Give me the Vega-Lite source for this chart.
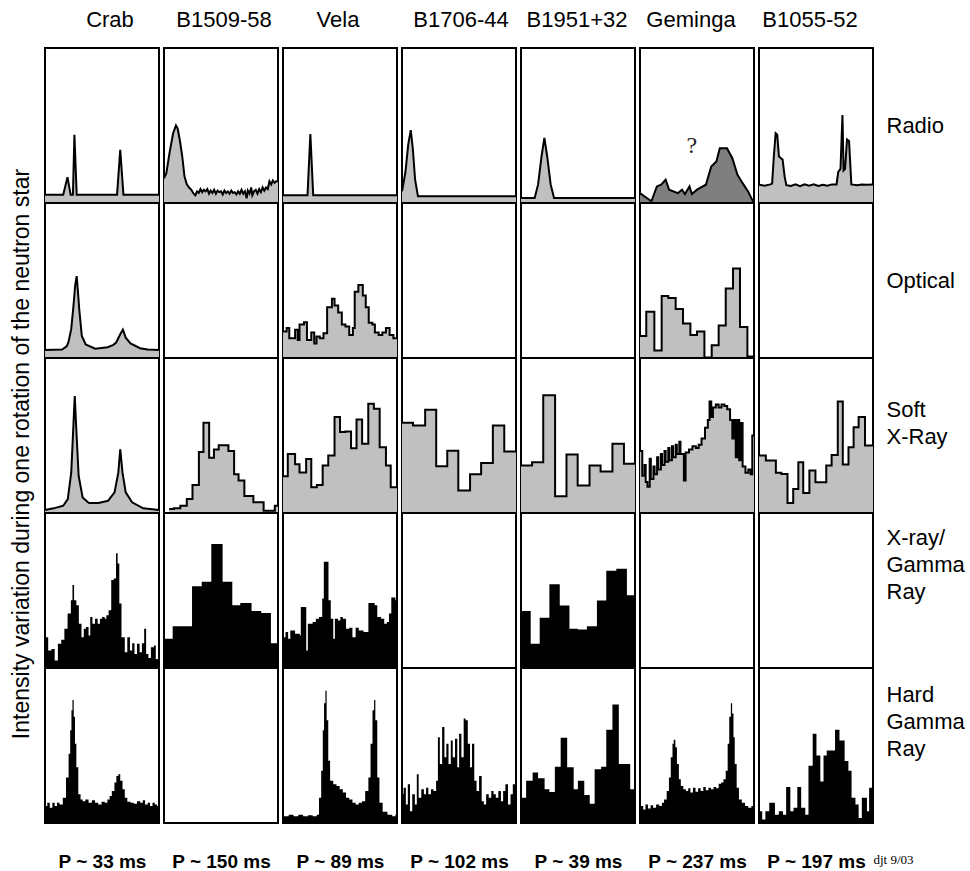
{
"$schema": "https://vega.github.io/schema/vega-lite/v6.json",
"background": "white",
"padding": {"left": 10, "top": 8, "right": 0, "bottom": 0},
"title": {"text": "Intensity variation during one rotation of the neutron star", "orient": "left", "anchor": "middle", "fontSize": 23, "fontWeight": "normal", "font": "Liberation Sans", "color": "black", "offset": 6, "dx": -14},
"datasets": {"profiles": [
{"p":"Crab","b":"Radio","x":0,"y":0.054},{"p":"Crab","b":"Radio","x":0.16,"y":0.054},{"p":"Crab","b":"Radio","x":0.197,"y":0.167},{"p":"Crab","b":"Radio","x":0.225,"y":0.054},{"p":"Crab","b":"Radio","x":0.245,"y":0.054},{"p":"Crab","b":"Radio","x":0.258,"y":0.44},{"p":"Crab","b":"Radio","x":0.278,"y":0.054},{"p":"Crab","b":"Radio","x":0.632,"y":0.054},{"p":"Crab","b":"Radio","x":0.66,"y":0.343},{"p":"Crab","b":"Radio","x":0.688,"y":0.054},{"p":"Crab","b":"Radio","x":1,"y":0.054},
{"p":"Crab","b":"Optical","x":0,"y":0.052},{"p":"Crab","b":"Optical","x":0.15,"y":0.055},{"p":"Crab","b":"Optical","x":0.19,"y":0.075},{"p":"Crab","b":"Optical","x":0.205,"y":0.1},{"p":"Crab","b":"Optical","x":0.23,"y":0.186},{"p":"Crab","b":"Optical","x":0.25,"y":0.338},{"p":"Crab","b":"Optical","x":0.265,"y":0.47},{"p":"Crab","b":"Optical","x":0.278,"y":0.528},{"p":"Crab","b":"Optical","x":0.29,"y":0.42},{"p":"Crab","b":"Optical","x":0.3,"y":0.317},{"p":"Crab","b":"Optical","x":0.323,"y":0.142},{"p":"Crab","b":"Optical","x":0.357,"y":0.087},{"p":"Crab","b":"Optical","x":0.44,"y":0.06},{"p":"Crab","b":"Optical","x":0.55,"y":0.07},{"p":"Crab","b":"Optical","x":0.6,"y":0.085},{"p":"Crab","b":"Optical","x":0.624,"y":0.1},{"p":"Crab","b":"Optical","x":0.66,"y":0.153},{"p":"Crab","b":"Optical","x":0.683,"y":0.183},{"p":"Crab","b":"Optical","x":0.708,"y":0.131},{"p":"Crab","b":"Optical","x":0.75,"y":0.094},{"p":"Crab","b":"Optical","x":0.834,"y":0.063},{"p":"Crab","b":"Optical","x":0.9,"y":0.055},{"p":"Crab","b":"Optical","x":1,"y":0.052},
{"p":"Crab","b":"Soft X-Ray","x":0,"y":0.02},{"p":"Crab","b":"Soft X-Ray","x":0.076,"y":0.03},{"p":"Crab","b":"Soft X-Ray","x":0.16,"y":0.047},{"p":"Crab","b":"Soft X-Ray","x":0.2,"y":0.09},{"p":"Crab","b":"Soft X-Ray","x":0.23,"y":0.26},{"p":"Crab","b":"Soft X-Ray","x":0.25,"y":0.58},{"p":"Crab","b":"Soft X-Ray","x":0.261,"y":0.754},{"p":"Crab","b":"Soft X-Ray","x":0.272,"y":0.58},{"p":"Crab","b":"Soft X-Ray","x":0.295,"y":0.24},{"p":"Crab","b":"Soft X-Ray","x":0.33,"y":0.1},{"p":"Crab","b":"Soft X-Ray","x":0.385,"y":0.064},{"p":"Crab","b":"Soft X-Ray","x":0.47,"y":0.064},{"p":"Crab","b":"Soft X-Ray","x":0.553,"y":0.079},{"p":"Crab","b":"Soft X-Ray","x":0.61,"y":0.133},{"p":"Crab","b":"Soft X-Ray","x":0.643,"y":0.26},{"p":"Crab","b":"Soft X-Ray","x":0.66,"y":0.411},{"p":"Crab","b":"Soft X-Ray","x":0.68,"y":0.26},{"p":"Crab","b":"Soft X-Ray","x":0.708,"y":0.133},{"p":"Crab","b":"Soft X-Ray","x":0.764,"y":0.069},{"p":"Crab","b":"Soft X-Ray","x":0.862,"y":0.03},{"p":"Crab","b":"Soft X-Ray","x":1,"y":0.02},
{"p":"Crab","b":"X-ray/Gamma Ray","x":0,"y":0.199},{"p":"Crab","b":"X-ray/Gamma Ray","x":0.028,"y":0.113},{"p":"Crab","b":"X-ray/Gamma Ray","x":0.057,"y":0.123},{"p":"Crab","b":"X-ray/Gamma Ray","x":0.085,"y":0.048},{"p":"Crab","b":"X-ray/Gamma Ray","x":0.113,"y":0.156},{"p":"Crab","b":"X-ray/Gamma Ray","x":0.142,"y":0.182},{"p":"Crab","b":"X-ray/Gamma Ray","x":0.17,"y":0.253},{"p":"Crab","b":"X-ray/Gamma Ray","x":0.198,"y":0.351},{"p":"Crab","b":"X-ray/Gamma Ray","x":0.227,"y":0.437},{"p":"Crab","b":"X-ray/Gamma Ray","x":0.241,"y":0.535},{"p":"Crab","b":"X-ray/Gamma Ray","x":0.255,"y":0.437},{"p":"Crab","b":"X-ray/Gamma Ray","x":0.275,"y":0.405},{"p":"Crab","b":"X-ray/Gamma Ray","x":0.297,"y":0.286},{"p":"Crab","b":"X-ray/Gamma Ray","x":0.32,"y":0.199},{"p":"Crab","b":"X-ray/Gamma Ray","x":0.34,"y":0.253},{"p":"Crab","b":"X-ray/Gamma Ray","x":0.36,"y":0.264},{"p":"Crab","b":"X-ray/Gamma Ray","x":0.382,"y":0.21},{"p":"Crab","b":"X-ray/Gamma Ray","x":0.397,"y":0.329},{"p":"Crab","b":"X-ray/Gamma Ray","x":0.416,"y":0.286},{"p":"Crab","b":"X-ray/Gamma Ray","x":0.439,"y":0.318},{"p":"Crab","b":"X-ray/Gamma Ray","x":0.462,"y":0.286},{"p":"Crab","b":"X-ray/Gamma Ray","x":0.482,"y":0.318},{"p":"Crab","b":"X-ray/Gamma Ray","x":0.501,"y":0.329},{"p":"Crab","b":"X-ray/Gamma Ray","x":0.524,"y":0.318},{"p":"Crab","b":"X-ray/Gamma Ray","x":0.538,"y":0.34},{"p":"Crab","b":"X-ray/Gamma Ray","x":0.558,"y":0.372},{"p":"Crab","b":"X-ray/Gamma Ray","x":0.581,"y":0.567},{"p":"Crab","b":"X-ray/Gamma Ray","x":0.603,"y":0.578},{"p":"Crab","b":"X-ray/Gamma Ray","x":0.623,"y":0.74},{"p":"Crab","b":"X-ray/Gamma Ray","x":0.637,"y":0.675},{"p":"Crab","b":"X-ray/Gamma Ray","x":0.652,"y":0.416},{"p":"Crab","b":"X-ray/Gamma Ray","x":0.671,"y":0.199},{"p":"Crab","b":"X-ray/Gamma Ray","x":0.7,"y":0.102},{"p":"Crab","b":"X-ray/Gamma Ray","x":0.722,"y":0.199},{"p":"Crab","b":"X-ray/Gamma Ray","x":0.745,"y":0.113},{"p":"Crab","b":"X-ray/Gamma Ray","x":0.765,"y":0.16},{"p":"Crab","b":"X-ray/Gamma Ray","x":0.785,"y":0.091},{"p":"Crab","b":"X-ray/Gamma Ray","x":0.807,"y":0.156},{"p":"Crab","b":"X-ray/Gamma Ray","x":0.83,"y":0.102},{"p":"Crab","b":"X-ray/Gamma Ray","x":0.85,"y":0.16},{"p":"Crab","b":"X-ray/Gamma Ray","x":0.87,"y":0.253},{"p":"Crab","b":"X-ray/Gamma Ray","x":0.887,"y":0.091},{"p":"Crab","b":"X-ray/Gamma Ray","x":0.907,"y":0.065},{"p":"Crab","b":"X-ray/Gamma Ray","x":0.929,"y":0.134},{"p":"Crab","b":"X-ray/Gamma Ray","x":0.955,"y":0.145},{"p":"Crab","b":"X-ray/Gamma Ray","x":0.972,"y":0.058},{"p":"Crab","b":"X-ray/Gamma Ray","x":0.99,"y":0.048},{"p":"Crab","b":"X-ray/Gamma Ray","x":1,"y":0.048},
{"p":"Crab","b":"Hard Gamma Ray","x":0,"y":0.109},{"p":"Crab","b":"Hard Gamma Ray","x":0.02,"y":0.13},{"p":"Crab","b":"Hard Gamma Ray","x":0.042,"y":0.098},{"p":"Crab","b":"Hard Gamma Ray","x":0.065,"y":0.13},{"p":"Crab","b":"Hard Gamma Ray","x":0.085,"y":0.109},{"p":"Crab","b":"Hard Gamma Ray","x":0.105,"y":0.13},{"p":"Crab","b":"Hard Gamma Ray","x":0.127,"y":0.12},{"p":"Crab","b":"Hard Gamma Ray","x":0.156,"y":0.163},{"p":"Crab","b":"Hard Gamma Ray","x":0.184,"y":0.293},{"p":"Crab","b":"Hard Gamma Ray","x":0.207,"y":0.446},{"p":"Crab","b":"Hard Gamma Ray","x":0.221,"y":0.598},{"p":"Crab","b":"Hard Gamma Ray","x":0.232,"y":0.728},{"p":"Crab","b":"Hard Gamma Ray","x":0.241,"y":0.793},{"p":"Crab","b":"Hard Gamma Ray","x":0.252,"y":0.685},{"p":"Crab","b":"Hard Gamma Ray","x":0.263,"y":0.511},{"p":"Crab","b":"Hard Gamma Ray","x":0.275,"y":0.359},{"p":"Crab","b":"Hard Gamma Ray","x":0.292,"y":0.185},{"p":"Crab","b":"Hard Gamma Ray","x":0.312,"y":0.152},{"p":"Crab","b":"Hard Gamma Ray","x":0.331,"y":0.141},{"p":"Crab","b":"Hard Gamma Ray","x":0.354,"y":0.152},{"p":"Crab","b":"Hard Gamma Ray","x":0.382,"y":0.13},{"p":"Crab","b":"Hard Gamma Ray","x":0.411,"y":0.146},{"p":"Crab","b":"Hard Gamma Ray","x":0.439,"y":0.13},{"p":"Crab","b":"Hard Gamma Ray","x":0.467,"y":0.12},{"p":"Crab","b":"Hard Gamma Ray","x":0.496,"y":0.137},{"p":"Crab","b":"Hard Gamma Ray","x":0.524,"y":0.13},{"p":"Crab","b":"Hard Gamma Ray","x":0.547,"y":0.152},{"p":"Crab","b":"Hard Gamma Ray","x":0.567,"y":0.174},{"p":"Crab","b":"Hard Gamma Ray","x":0.586,"y":0.207},{"p":"Crab","b":"Hard Gamma Ray","x":0.609,"y":0.261},{"p":"Crab","b":"Hard Gamma Ray","x":0.626,"y":0.304},{"p":"Crab","b":"Hard Gamma Ray","x":0.643,"y":0.315},{"p":"Crab","b":"Hard Gamma Ray","x":0.66,"y":0.272},{"p":"Crab","b":"Hard Gamma Ray","x":0.68,"y":0.217},{"p":"Crab","b":"Hard Gamma Ray","x":0.7,"y":0.163},{"p":"Crab","b":"Hard Gamma Ray","x":0.722,"y":0.137},{"p":"Crab","b":"Hard Gamma Ray","x":0.751,"y":0.13},{"p":"Crab","b":"Hard Gamma Ray","x":0.779,"y":0.124},{"p":"Crab","b":"Hard Gamma Ray","x":0.807,"y":0.141},{"p":"Crab","b":"Hard Gamma Ray","x":0.836,"y":0.13},{"p":"Crab","b":"Hard Gamma Ray","x":0.858,"y":0.146},{"p":"Crab","b":"Hard Gamma Ray","x":0.878,"y":0.12},{"p":"Crab","b":"Hard Gamma Ray","x":0.901,"y":0.13},{"p":"Crab","b":"Hard Gamma Ray","x":0.921,"y":0.109},{"p":"Crab","b":"Hard Gamma Ray","x":0.943,"y":0.13},{"p":"Crab","b":"Hard Gamma Ray","x":0.963,"y":0.12},{"p":"Crab","b":"Hard Gamma Ray","x":0.983,"y":0.109},{"p":"Crab","b":"Hard Gamma Ray","x":1,"y":0.109},
{"p":"B1509-58","b":"Radio","x":0,"y":0.16},{"p":"B1509-58","b":"Radio","x":0.02,"y":0.19},{"p":"B1509-58","b":"Radio","x":0.05,"y":0.33},{"p":"B1509-58","b":"Radio","x":0.08,"y":0.45},{"p":"B1509-58","b":"Radio","x":0.105,"y":0.5},{"p":"B1509-58","b":"Radio","x":0.12,"y":0.48},{"p":"B1509-58","b":"Radio","x":0.14,"y":0.4},{"p":"B1509-58","b":"Radio","x":0.16,"y":0.3},{"p":"B1509-58","b":"Radio","x":0.18,"y":0.17},{"p":"B1509-58","b":"Radio","x":0.2,"y":0.12},{"p":"B1509-58","b":"Radio","x":0.22,"y":0.1},{"p":"B1509-58","b":"Radio","x":0.24,"y":0.085},{"p":"B1509-58","b":"Radio","x":0.26,"y":0.06},{"p":"B1509-58","b":"Radio","x":0.275,"y":0.05},{"p":"B1509-58","b":"Radio","x":0.29,"y":0.075},{"p":"B1509-58","b":"Radio","x":0.305,"y":0.065},{"p":"B1509-58","b":"Radio","x":0.32,"y":0.09},{"p":"B1509-58","b":"Radio","x":0.335,"y":0.07},{"p":"B1509-58","b":"Radio","x":0.35,"y":0.085},{"p":"B1509-58","b":"Radio","x":0.365,"y":0.075},{"p":"B1509-58","b":"Radio","x":0.38,"y":0.09},{"p":"B1509-58","b":"Radio","x":0.395,"y":0.06},{"p":"B1509-58","b":"Radio","x":0.41,"y":0.08},{"p":"B1509-58","b":"Radio","x":0.425,"y":0.065},{"p":"B1509-58","b":"Radio","x":0.44,"y":0.085},{"p":"B1509-58","b":"Radio","x":0.455,"y":0.06},{"p":"B1509-58","b":"Radio","x":0.47,"y":0.08},{"p":"B1509-58","b":"Radio","x":0.485,"y":0.07},{"p":"B1509-58","b":"Radio","x":0.5,"y":0.075},{"p":"B1509-58","b":"Radio","x":0.515,"y":0.055},{"p":"B1509-58","b":"Radio","x":0.53,"y":0.08},{"p":"B1509-58","b":"Radio","x":0.545,"y":0.065},{"p":"B1509-58","b":"Radio","x":0.56,"y":0.075},{"p":"B1509-58","b":"Radio","x":0.575,"y":0.06},{"p":"B1509-58","b":"Radio","x":0.59,"y":0.08},{"p":"B1509-58","b":"Radio","x":0.605,"y":0.065},{"p":"B1509-58","b":"Radio","x":0.62,"y":0.07},{"p":"B1509-58","b":"Radio","x":0.635,"y":0.055},{"p":"B1509-58","b":"Radio","x":0.65,"y":0.075},{"p":"B1509-58","b":"Radio","x":0.665,"y":0.06},{"p":"B1509-58","b":"Radio","x":0.68,"y":0.085},{"p":"B1509-58","b":"Radio","x":0.695,"y":0.06},{"p":"B1509-58","b":"Radio","x":0.71,"y":0.075},{"p":"B1509-58","b":"Radio","x":0.725,"y":0.03},{"p":"B1509-58","b":"Radio","x":0.735,"y":0.08},{"p":"B1509-58","b":"Radio","x":0.75,"y":0.06},{"p":"B1509-58","b":"Radio","x":0.765,"y":0.1},{"p":"B1509-58","b":"Radio","x":0.775,"y":0.05},{"p":"B1509-58","b":"Radio","x":0.79,"y":0.075},{"p":"B1509-58","b":"Radio","x":0.805,"y":0.085},{"p":"B1509-58","b":"Radio","x":0.82,"y":0.06},{"p":"B1509-58","b":"Radio","x":0.835,"y":0.09},{"p":"B1509-58","b":"Radio","x":0.85,"y":0.07},{"p":"B1509-58","b":"Radio","x":0.865,"y":0.1},{"p":"B1509-58","b":"Radio","x":0.88,"y":0.08},{"p":"B1509-58","b":"Radio","x":0.895,"y":0.1},{"p":"B1509-58","b":"Radio","x":0.91,"y":0.09},{"p":"B1509-58","b":"Radio","x":0.925,"y":0.14},{"p":"B1509-58","b":"Radio","x":0.94,"y":0.12},{"p":"B1509-58","b":"Radio","x":0.955,"y":0.145},{"p":"B1509-58","b":"Radio","x":0.97,"y":0.13},{"p":"B1509-58","b":"Radio","x":0.985,"y":0.14},{"p":"B1509-58","b":"Radio","x":1,"y":0.14},
{"p":"B1509-58","b":"Soft X-Ray","x":0.045,"y":0.026},{"p":"B1509-58","b":"Soft X-Ray","x":0.087,"y":0.03},{"p":"B1509-58","b":"Soft X-Ray","x":0.143,"y":0.047},{"p":"B1509-58","b":"Soft X-Ray","x":0.2,"y":0.09},{"p":"B1509-58","b":"Soft X-Ray","x":0.25,"y":0.18},{"p":"B1509-58","b":"Soft X-Ray","x":0.306,"y":0.394},{"p":"B1509-58","b":"Soft X-Ray","x":0.346,"y":0.582},{"p":"B1509-58","b":"Soft X-Ray","x":0.396,"y":0.357},{"p":"B1509-58","b":"Soft X-Ray","x":0.438,"y":0.41},{"p":"B1509-58","b":"Soft X-Ray","x":0.48,"y":0.437},{"p":"B1509-58","b":"Soft X-Ray","x":0.565,"y":0.4},{"p":"B1509-58","b":"Soft X-Ray","x":0.615,"y":0.25},{"p":"B1509-58","b":"Soft X-Ray","x":0.654,"y":0.21},{"p":"B1509-58","b":"Soft X-Ray","x":0.705,"y":0.11},{"p":"B1509-58","b":"Soft X-Ray","x":0.784,"y":0.07},{"p":"B1509-58","b":"Soft X-Ray","x":0.874,"y":0.015},{"p":"B1509-58","b":"Soft X-Ray","x":0.972,"y":0.047},{"p":"B1509-58","b":"Soft X-Ray","x":1,"y":0.047},
{"p":"B1509-58","b":"X-ray/Gamma Ray","x":0,"y":0.188},{"p":"B1509-58","b":"X-ray/Gamma Ray","x":0.076,"y":0.27},{"p":"B1509-58","b":"X-ray/Gamma Ray","x":0.246,"y":0.528},{"p":"B1509-58","b":"X-ray/Gamma Ray","x":0.331,"y":0.556},{"p":"B1509-58","b":"X-ray/Gamma Ray","x":0.415,"y":0.8},{"p":"B1509-58","b":"X-ray/Gamma Ray","x":0.514,"y":0.556},{"p":"B1509-58","b":"X-ray/Gamma Ray","x":0.599,"y":0.405},{"p":"B1509-58","b":"X-ray/Gamma Ray","x":0.669,"y":0.42},{"p":"B1509-58","b":"X-ray/Gamma Ray","x":0.768,"y":0.368},{"p":"B1509-58","b":"X-ray/Gamma Ray","x":0.853,"y":0.355},{"p":"B1509-58","b":"X-ray/Gamma Ray","x":0.938,"y":0.16},{"p":"B1509-58","b":"X-ray/Gamma Ray","x":1,"y":0.16},
{"p":"Vela","b":"Radio","x":0,"y":0.05},{"p":"Vela","b":"Radio","x":0.215,"y":0.05},{"p":"Vela","b":"Radio","x":0.24,"y":0.445},{"p":"Vela","b":"Radio","x":0.265,"y":0.05},{"p":"Vela","b":"Radio","x":1,"y":0.05},
{"p":"Vela","b":"Optical","x":0,"y":0.171},{"p":"Vela","b":"Optical","x":0.032,"y":0.193},{"p":"Vela","b":"Optical","x":0.055,"y":0.127},{"p":"Vela","b":"Optical","x":0.106,"y":0.182},{"p":"Vela","b":"Optical","x":0.129,"y":0.116},{"p":"Vela","b":"Optical","x":0.145,"y":0.216},{"p":"Vela","b":"Optical","x":0.184,"y":0.231},{"p":"Vela","b":"Optical","x":0.21,"y":0.116},{"p":"Vela","b":"Optical","x":0.248,"y":0.164},{"p":"Vela","b":"Optical","x":0.274,"y":0.093},{"p":"Vela","b":"Optical","x":0.294,"y":0.138},{"p":"Vela","b":"Optical","x":0.323,"y":0.127},{"p":"Vela","b":"Optical","x":0.355,"y":0.16},{"p":"Vela","b":"Optical","x":0.387,"y":0.327},{"p":"Vela","b":"Optical","x":0.429,"y":0.382},{"p":"Vela","b":"Optical","x":0.452,"y":0.338},{"p":"Vela","b":"Optical","x":0.484,"y":0.293},{"p":"Vela","b":"Optical","x":0.516,"y":0.216},{"p":"Vela","b":"Optical","x":0.548,"y":0.204},{"p":"Vela","b":"Optical","x":0.581,"y":0.149},{"p":"Vela","b":"Optical","x":0.613,"y":0.193},{"p":"Vela","b":"Optical","x":0.629,"y":0.427},{"p":"Vela","b":"Optical","x":0.661,"y":0.471},{"p":"Vela","b":"Optical","x":0.7,"y":0.404},{"p":"Vela","b":"Optical","x":0.726,"y":0.327},{"p":"Vela","b":"Optical","x":0.752,"y":0.227},{"p":"Vela","b":"Optical","x":0.784,"y":0.216},{"p":"Vela","b":"Optical","x":0.806,"y":0.164},{"p":"Vela","b":"Optical","x":0.839,"y":0.149},{"p":"Vela","b":"Optical","x":0.871,"y":0.164},{"p":"Vela","b":"Optical","x":0.903,"y":0.193},{"p":"Vela","b":"Optical","x":0.935,"y":0.149},{"p":"Vela","b":"Optical","x":0.968,"y":0.127},{"p":"Vela","b":"Optical","x":1,"y":0.127},
{"p":"Vela","b":"Soft X-Ray","x":0,"y":0.237},{"p":"Vela","b":"Soft X-Ray","x":0.042,"y":0.381},{"p":"Vela","b":"Soft X-Ray","x":0.106,"y":0.315},{"p":"Vela","b":"Soft X-Ray","x":0.145,"y":0.261},{"p":"Vela","b":"Soft X-Ray","x":0.203,"y":0.349},{"p":"Vela","b":"Soft X-Ray","x":0.248,"y":0.166},{"p":"Vela","b":"Soft X-Ray","x":0.297,"y":0.181},{"p":"Vela","b":"Soft X-Ray","x":0.348,"y":0.306},{"p":"Vela","b":"Soft X-Ray","x":0.397,"y":0.371},{"p":"Vela","b":"Soft X-Ray","x":0.452,"y":0.619},{"p":"Vela","b":"Soft X-Ray","x":0.5,"y":0.522},{"p":"Vela","b":"Soft X-Ray","x":0.548,"y":0.526},{"p":"Vela","b":"Soft X-Ray","x":0.597,"y":0.418},{"p":"Vela","b":"Soft X-Ray","x":0.645,"y":0.603},{"p":"Vela","b":"Soft X-Ray","x":0.694,"y":0.446},{"p":"Vela","b":"Soft X-Ray","x":0.748,"y":0.705},{"p":"Vela","b":"Soft X-Ray","x":0.797,"y":0.672},{"p":"Vela","b":"Soft X-Ray","x":0.848,"y":0.425},{"p":"Vela","b":"Soft X-Ray","x":0.903,"y":0.306},{"p":"Vela","b":"Soft X-Ray","x":0.945,"y":0.166},{"p":"Vela","b":"Soft X-Ray","x":1,"y":0.166},
{"p":"Vela","b":"X-ray/Gamma Ray","x":0,"y":0.199},{"p":"Vela","b":"X-ray/Gamma Ray","x":0.022,"y":0.232},{"p":"Vela","b":"X-ray/Gamma Ray","x":0.045,"y":0.188},{"p":"Vela","b":"X-ray/Gamma Ray","x":0.064,"y":0.242},{"p":"Vela","b":"X-ray/Gamma Ray","x":0.106,"y":0.221},{"p":"Vela","b":"X-ray/Gamma Ray","x":0.148,"y":0.21},{"p":"Vela","b":"X-ray/Gamma Ray","x":0.156,"y":0.394},{"p":"Vela","b":"X-ray/Gamma Ray","x":0.204,"y":0.113},{"p":"Vela","b":"X-ray/Gamma Ray","x":0.218,"y":0.286},{"p":"Vela","b":"X-ray/Gamma Ray","x":0.26,"y":0.297},{"p":"Vela","b":"X-ray/Gamma Ray","x":0.288,"y":0.318},{"p":"Vela","b":"X-ray/Gamma Ray","x":0.316,"y":0.329},{"p":"Vela","b":"X-ray/Gamma Ray","x":0.344,"y":0.448},{"p":"Vela","b":"X-ray/Gamma Ray","x":0.358,"y":0.686},{"p":"Vela","b":"X-ray/Gamma Ray","x":0.399,"y":0.437},{"p":"Vela","b":"X-ray/Gamma Ray","x":0.419,"y":0.318},{"p":"Vela","b":"X-ray/Gamma Ray","x":0.441,"y":0.188},{"p":"Vela","b":"X-ray/Gamma Ray","x":0.455,"y":0.318},{"p":"Vela","b":"X-ray/Gamma Ray","x":0.483,"y":0.307},{"p":"Vela","b":"X-ray/Gamma Ray","x":0.503,"y":0.329},{"p":"Vela","b":"X-ray/Gamma Ray","x":0.525,"y":0.318},{"p":"Vela","b":"X-ray/Gamma Ray","x":0.553,"y":0.253},{"p":"Vela","b":"X-ray/Gamma Ray","x":0.581,"y":0.26},{"p":"Vela","b":"X-ray/Gamma Ray","x":0.609,"y":0.199},{"p":"Vela","b":"X-ray/Gamma Ray","x":0.637,"y":0.26},{"p":"Vela","b":"X-ray/Gamma Ray","x":0.665,"y":0.242},{"p":"Vela","b":"X-ray/Gamma Ray","x":0.707,"y":0.232},{"p":"Vela","b":"X-ray/Gamma Ray","x":0.749,"y":0.42},{"p":"Vela","b":"X-ray/Gamma Ray","x":0.804,"y":0.405},{"p":"Vela","b":"X-ray/Gamma Ray","x":0.827,"y":0.329},{"p":"Vela","b":"X-ray/Gamma Ray","x":0.86,"y":0.318},{"p":"Vela","b":"X-ray/Gamma Ray","x":0.888,"y":0.286},{"p":"Vela","b":"X-ray/Gamma Ray","x":0.911,"y":0.297},{"p":"Vela","b":"X-ray/Gamma Ray","x":0.93,"y":0.351},{"p":"Vela","b":"X-ray/Gamma Ray","x":0.95,"y":0.455},{"p":"Vela","b":"X-ray/Gamma Ray","x":0.986,"y":0.437},{"p":"Vela","b":"X-ray/Gamma Ray","x":1,"y":0.437},
{"p":"Vela","b":"Hard Gamma Ray","x":0,"y":0.043},{"p":"Vela","b":"Hard Gamma Ray","x":0.05,"y":0.054},{"p":"Vela","b":"Hard Gamma Ray","x":0.092,"y":0.043},{"p":"Vela","b":"Hard Gamma Ray","x":0.134,"y":0.054},{"p":"Vela","b":"Hard Gamma Ray","x":0.176,"y":0.043},{"p":"Vela","b":"Hard Gamma Ray","x":0.218,"y":0.05},{"p":"Vela","b":"Hard Gamma Ray","x":0.26,"y":0.043},{"p":"Vela","b":"Hard Gamma Ray","x":0.296,"y":0.054},{"p":"Vela","b":"Hard Gamma Ray","x":0.316,"y":0.163},{"p":"Vela","b":"Hard Gamma Ray","x":0.335,"y":0.337},{"p":"Vela","b":"Hard Gamma Ray","x":0.349,"y":0.598},{"p":"Vela","b":"Hard Gamma Ray","x":0.36,"y":0.772},{"p":"Vela","b":"Hard Gamma Ray","x":0.372,"y":0.854},{"p":"Vela","b":"Hard Gamma Ray","x":0.383,"y":0.663},{"p":"Vela","b":"Hard Gamma Ray","x":0.397,"y":0.402},{"p":"Vela","b":"Hard Gamma Ray","x":0.413,"y":0.272},{"p":"Vela","b":"Hard Gamma Ray","x":0.441,"y":0.25},{"p":"Vela","b":"Hard Gamma Ray","x":0.469,"y":0.239},{"p":"Vela","b":"Hard Gamma Ray","x":0.497,"y":0.217},{"p":"Vela","b":"Hard Gamma Ray","x":0.525,"y":0.196},{"p":"Vela","b":"Hard Gamma Ray","x":0.553,"y":0.163},{"p":"Vela","b":"Hard Gamma Ray","x":0.581,"y":0.152},{"p":"Vela","b":"Hard Gamma Ray","x":0.609,"y":0.13},{"p":"Vela","b":"Hard Gamma Ray","x":0.637,"y":0.12},{"p":"Vela","b":"Hard Gamma Ray","x":0.665,"y":0.13},{"p":"Vela","b":"Hard Gamma Ray","x":0.693,"y":0.141},{"p":"Vela","b":"Hard Gamma Ray","x":0.721,"y":0.207},{"p":"Vela","b":"Hard Gamma Ray","x":0.749,"y":0.293},{"p":"Vela","b":"Hard Gamma Ray","x":0.768,"y":0.511},{"p":"Vela","b":"Hard Gamma Ray","x":0.785,"y":0.728},{"p":"Vela","b":"Hard Gamma Ray","x":0.799,"y":0.793},{"p":"Vela","b":"Hard Gamma Ray","x":0.81,"y":0.663},{"p":"Vela","b":"Hard Gamma Ray","x":0.827,"y":0.293},{"p":"Vela","b":"Hard Gamma Ray","x":0.846,"y":0.13},{"p":"Vela","b":"Hard Gamma Ray","x":0.874,"y":0.072},{"p":"Vela","b":"Hard Gamma Ray","x":0.916,"y":0.054},{"p":"Vela","b":"Hard Gamma Ray","x":0.958,"y":0.043},{"p":"Vela","b":"Hard Gamma Ray","x":0.986,"y":0.054},{"p":"Vela","b":"Hard Gamma Ray","x":1,"y":0.054},
{"p":"B1706-44","b":"Radio","x":0,"y":0.075},{"p":"B1706-44","b":"Radio","x":0.03,"y":0.2},{"p":"B1706-44","b":"Radio","x":0.055,"y":0.38},{"p":"B1706-44","b":"Radio","x":0.077,"y":0.47},{"p":"B1706-44","b":"Radio","x":0.095,"y":0.35},{"p":"B1706-44","b":"Radio","x":0.115,"y":0.15},{"p":"B1706-44","b":"Radio","x":0.14,"y":0.043},{"p":"B1706-44","b":"Radio","x":1,"y":0.043},
{"p":"B1706-44","b":"Soft X-Ray","x":0,"y":0.582},{"p":"B1706-44","b":"Soft X-Ray","x":0.097,"y":0.565},{"p":"B1706-44","b":"Soft X-Ray","x":0.203,"y":0.666},{"p":"B1706-44","b":"Soft X-Ray","x":0.3,"y":0.302},{"p":"B1706-44","b":"Soft X-Ray","x":0.397,"y":0.401},{"p":"B1706-44","b":"Soft X-Ray","x":0.494,"y":0.145},{"p":"B1706-44","b":"Soft X-Ray","x":0.597,"y":0.25},{"p":"B1706-44","b":"Soft X-Ray","x":0.694,"y":0.323},{"p":"B1706-44","b":"Soft X-Ray","x":0.797,"y":0.565},{"p":"B1706-44","b":"Soft X-Ray","x":0.897,"y":0.397},{"p":"B1706-44","b":"Soft X-Ray","x":1,"y":0.397},
{"p":"B1706-44","b":"Hard Gamma Ray","x":0,"y":0.185},{"p":"B1706-44","b":"Hard Gamma Ray","x":0.014,"y":0.228},{"p":"B1706-44","b":"Hard Gamma Ray","x":0.034,"y":0.12},{"p":"B1706-44","b":"Hard Gamma Ray","x":0.051,"y":0.25},{"p":"B1706-44","b":"Hard Gamma Ray","x":0.07,"y":0.076},{"p":"B1706-44","b":"Hard Gamma Ray","x":0.09,"y":0.185},{"p":"B1706-44","b":"Hard Gamma Ray","x":0.113,"y":0.12},{"p":"B1706-44","b":"Hard Gamma Ray","x":0.13,"y":0.315},{"p":"B1706-44","b":"Hard Gamma Ray","x":0.146,"y":0.163},{"p":"B1706-44","b":"Hard Gamma Ray","x":0.169,"y":0.217},{"p":"B1706-44","b":"Hard Gamma Ray","x":0.192,"y":0.185},{"p":"B1706-44","b":"Hard Gamma Ray","x":0.211,"y":0.228},{"p":"B1706-44","b":"Hard Gamma Ray","x":0.231,"y":0.185},{"p":"B1706-44","b":"Hard Gamma Ray","x":0.254,"y":0.217},{"p":"B1706-44","b":"Hard Gamma Ray","x":0.276,"y":0.207},{"p":"B1706-44","b":"Hard Gamma Ray","x":0.299,"y":0.272},{"p":"B1706-44","b":"Hard Gamma Ray","x":0.315,"y":0.554},{"p":"B1706-44","b":"Hard Gamma Ray","x":0.332,"y":0.38},{"p":"B1706-44","b":"Hard Gamma Ray","x":0.352,"y":0.62},{"p":"B1706-44","b":"Hard Gamma Ray","x":0.372,"y":0.424},{"p":"B1706-44","b":"Hard Gamma Ray","x":0.389,"y":0.511},{"p":"B1706-44","b":"Hard Gamma Ray","x":0.408,"y":0.38},{"p":"B1706-44","b":"Hard Gamma Ray","x":0.428,"y":0.533},{"p":"B1706-44","b":"Hard Gamma Ray","x":0.445,"y":0.424},{"p":"B1706-44","b":"Hard Gamma Ray","x":0.465,"y":0.543},{"p":"B1706-44","b":"Hard Gamma Ray","x":0.485,"y":0.359},{"p":"B1706-44","b":"Hard Gamma Ray","x":0.501,"y":0.576},{"p":"B1706-44","b":"Hard Gamma Ray","x":0.521,"y":0.424},{"p":"B1706-44","b":"Hard Gamma Ray","x":0.541,"y":0.674},{"p":"B1706-44","b":"Hard Gamma Ray","x":0.558,"y":0.663},{"p":"B1706-44","b":"Hard Gamma Ray","x":0.577,"y":0.511},{"p":"B1706-44","b":"Hard Gamma Ray","x":0.597,"y":0.359},{"p":"B1706-44","b":"Hard Gamma Ray","x":0.614,"y":0.511},{"p":"B1706-44","b":"Hard Gamma Ray","x":0.634,"y":0.272},{"p":"B1706-44","b":"Hard Gamma Ray","x":0.654,"y":0.207},{"p":"B1706-44","b":"Hard Gamma Ray","x":0.676,"y":0.304},{"p":"B1706-44","b":"Hard Gamma Ray","x":0.699,"y":0.141},{"p":"B1706-44","b":"Hard Gamma Ray","x":0.718,"y":0.12},{"p":"B1706-44","b":"Hard Gamma Ray","x":0.738,"y":0.185},{"p":"B1706-44","b":"Hard Gamma Ray","x":0.761,"y":0.163},{"p":"B1706-44","b":"Hard Gamma Ray","x":0.783,"y":0.207},{"p":"B1706-44","b":"Hard Gamma Ray","x":0.803,"y":0.185},{"p":"B1706-44","b":"Hard Gamma Ray","x":0.823,"y":0.163},{"p":"B1706-44","b":"Hard Gamma Ray","x":0.845,"y":0.207},{"p":"B1706-44","b":"Hard Gamma Ray","x":0.868,"y":0.141},{"p":"B1706-44","b":"Hard Gamma Ray","x":0.887,"y":0.207},{"p":"B1706-44","b":"Hard Gamma Ray","x":0.907,"y":0.25},{"p":"B1706-44","b":"Hard Gamma Ray","x":0.93,"y":0.12},{"p":"B1706-44","b":"Hard Gamma Ray","x":0.952,"y":0.185},{"p":"B1706-44","b":"Hard Gamma Ray","x":0.972,"y":0.25},{"p":"B1706-44","b":"Hard Gamma Ray","x":0.992,"y":0.163},{"p":"B1706-44","b":"Hard Gamma Ray","x":1,"y":0.163},
{"p":"B1951+32","b":"Radio","x":0,"y":0.032},{"p":"B1951+32","b":"Radio","x":0.12,"y":0.032},{"p":"B1951+32","b":"Radio","x":0.15,"y":0.12},{"p":"B1951+32","b":"Radio","x":0.18,"y":0.3},{"p":"B1951+32","b":"Radio","x":0.205,"y":0.42},{"p":"B1951+32","b":"Radio","x":0.23,"y":0.3},{"p":"B1951+32","b":"Radio","x":0.26,"y":0.12},{"p":"B1951+32","b":"Radio","x":0.29,"y":0.032},{"p":"B1951+32","b":"Radio","x":1,"y":0.032},
{"p":"B1951+32","b":"Soft X-Ray","x":0,"y":0.306},{"p":"B1951+32","b":"Soft X-Ray","x":0.097,"y":0.328},{"p":"B1951+32","b":"Soft X-Ray","x":0.195,"y":0.759},{"p":"B1951+32","b":"Soft X-Ray","x":0.299,"y":0.108},{"p":"B1951+32","b":"Soft X-Ray","x":0.399,"y":0.377},{"p":"B1951+32","b":"Soft X-Ray","x":0.497,"y":0.177},{"p":"B1951+32","b":"Soft X-Ray","x":0.601,"y":0.306},{"p":"B1951+32","b":"Soft X-Ray","x":0.698,"y":0.267},{"p":"B1951+32","b":"Soft X-Ray","x":0.802,"y":0.446},{"p":"B1951+32","b":"Soft X-Ray","x":0.903,"y":0.317},{"p":"B1951+32","b":"Soft X-Ray","x":1,"y":0.317},
{"p":"B1951+32","b":"X-ray/Gamma Ray","x":0,"y":0.368},{"p":"B1951+32","b":"X-ray/Gamma Ray","x":0.085,"y":0.156},{"p":"B1951+32","b":"X-ray/Gamma Ray","x":0.164,"y":0.325},{"p":"B1951+32","b":"X-ray/Gamma Ray","x":0.249,"y":0.541},{"p":"B1951+32","b":"X-ray/Gamma Ray","x":0.34,"y":0.403},{"p":"B1951+32","b":"X-ray/Gamma Ray","x":0.425,"y":0.253},{"p":"B1951+32","b":"X-ray/Gamma Ray","x":0.499,"y":0.249},{"p":"B1951+32","b":"X-ray/Gamma Ray","x":0.578,"y":0.27},{"p":"B1951+32","b":"X-ray/Gamma Ray","x":0.666,"y":0.435},{"p":"B1951+32","b":"X-ray/Gamma Ray","x":0.748,"y":0.628},{"p":"B1951+32","b":"X-ray/Gamma Ray","x":0.836,"y":0.641},{"p":"B1951+32","b":"X-ray/Gamma Ray","x":0.929,"y":0.47},{"p":"B1951+32","b":"X-ray/Gamma Ray","x":1,"y":0.47},
{"p":"B1951+32","b":"Hard Gamma Ray","x":0,"y":0.163},{"p":"B1951+32","b":"Hard Gamma Ray","x":0.045,"y":0.272},{"p":"B1951+32","b":"Hard Gamma Ray","x":0.102,"y":0.326},{"p":"B1951+32","b":"Hard Gamma Ray","x":0.15,"y":0.289},{"p":"B1951+32","b":"Hard Gamma Ray","x":0.207,"y":0.217},{"p":"B1951+32","b":"Hard Gamma Ray","x":0.249,"y":0.2},{"p":"B1951+32","b":"Hard Gamma Ray","x":0.297,"y":0.363},{"p":"B1951+32","b":"Hard Gamma Ray","x":0.348,"y":0.55},{"p":"B1951+32","b":"Hard Gamma Ray","x":0.405,"y":0.359},{"p":"B1951+32","b":"Hard Gamma Ray","x":0.462,"y":0.217},{"p":"B1951+32","b":"Hard Gamma Ray","x":0.499,"y":0.272},{"p":"B1951+32","b":"Hard Gamma Ray","x":0.555,"y":0.18},{"p":"B1951+32","b":"Hard Gamma Ray","x":0.603,"y":0.124},{"p":"B1951+32","b":"Hard Gamma Ray","x":0.646,"y":0.346},{"p":"B1951+32","b":"Hard Gamma Ray","x":0.703,"y":0.363},{"p":"B1951+32","b":"Hard Gamma Ray","x":0.748,"y":0.602},{"p":"B1951+32","b":"Hard Gamma Ray","x":0.802,"y":0.765},{"p":"B1951+32","b":"Hard Gamma Ray","x":0.858,"y":0.38},{"p":"B1951+32","b":"Hard Gamma Ray","x":0.958,"y":0.217},{"p":"B1951+32","b":"Hard Gamma Ray","x":1,"y":0.217},
{"p":"Geminga","b":"Radio","x":0,"y":0.058},{"p":"Geminga","b":"Radio","x":0.01,"y":0.058},{"p":"Geminga","b":"Radio","x":0.1,"y":0.011},{"p":"Geminga","b":"Radio","x":0.148,"y":0.107},{"p":"Geminga","b":"Radio","x":0.185,"y":0.118},{"p":"Geminga","b":"Radio","x":0.225,"y":0.15},{"p":"Geminga","b":"Radio","x":0.255,"y":0.086},{"p":"Geminga","b":"Radio","x":0.332,"y":0.064},{"p":"Geminga","b":"Radio","x":0.369,"y":0.086},{"p":"Geminga","b":"Radio","x":0.394,"y":0.058},{"p":"Geminga","b":"Radio","x":0.434,"y":0.107},{"p":"Geminga","b":"Radio","x":0.455,"y":0.058},{"p":"Geminga","b":"Radio","x":0.5,"y":0.086},{"p":"Geminga","b":"Radio","x":0.578,"y":0.118},{"p":"Geminga","b":"Radio","x":0.625,"y":0.236},{"p":"Geminga","b":"Radio","x":0.67,"y":0.268},{"p":"Geminga","b":"Radio","x":0.7,"y":0.353},{"p":"Geminga","b":"Radio","x":0.763,"y":0.353},{"p":"Geminga","b":"Radio","x":0.81,"y":0.289},{"p":"Geminga","b":"Radio","x":0.855,"y":0.182},{"p":"Geminga","b":"Radio","x":0.9,"y":0.128},{"p":"Geminga","b":"Radio","x":0.948,"y":0.075},{"p":"Geminga","b":"Radio","x":0.994,"y":0.006},{"p":"Geminga","b":"Radio","x":1,"y":0.006},
{"p":"Geminga","b":"Radio","x":0.455,"y":0.37,"t":"?"},
{"p":"Geminga","b":"Optical","x":0,"y":0.142},{"p":"Geminga","b":"Optical","x":0.055,"y":0.298},{"p":"Geminga","b":"Optical","x":0.126,"y":0.049},{"p":"Geminga","b":"Optical","x":0.19,"y":0.4},{"p":"Geminga","b":"Optical","x":0.248,"y":0.387},{"p":"Geminga","b":"Optical","x":0.313,"y":0.316},{"p":"Geminga","b":"Optical","x":0.377,"y":0.222},{"p":"Geminga","b":"Optical","x":0.442,"y":0.149},{"p":"Geminga","b":"Optical","x":0.5,"y":0.171},{"p":"Geminga","b":"Optical","x":0.565,"y":0.004},{"p":"Geminga","b":"Optical","x":0.629,"y":0.082},{"p":"Geminga","b":"Optical","x":0.69,"y":0.209},{"p":"Geminga","b":"Optical","x":0.752,"y":0.449},{"p":"Geminga","b":"Optical","x":0.816,"y":0.578},{"p":"Geminga","b":"Optical","x":0.877,"y":0.2},{"p":"Geminga","b":"Optical","x":0.942,"y":0.009},{"p":"Geminga","b":"Optical","x":1,"y":0.009},
{"p":"Geminga","b":"Soft X-Ray","x":0,"y":0.4},{"p":"Geminga","b":"Soft X-Ray","x":0.02,"y":0.24},{"p":"Geminga","b":"Soft X-Ray","x":0.04,"y":0.31},{"p":"Geminga","b":"Soft X-Ray","x":0.05,"y":0.2},{"p":"Geminga","b":"Soft X-Ray","x":0.065,"y":0.17},{"p":"Geminga","b":"Soft X-Ray","x":0.085,"y":0.35},{"p":"Geminga","b":"Soft X-Ray","x":0.095,"y":0.22},{"p":"Geminga","b":"Soft X-Ray","x":0.118,"y":0.3},{"p":"Geminga","b":"Soft X-Ray","x":0.128,"y":0.25},{"p":"Geminga","b":"Soft X-Ray","x":0.15,"y":0.36},{"p":"Geminga","b":"Soft X-Ray","x":0.16,"y":0.28},{"p":"Geminga","b":"Soft X-Ray","x":0.183,"y":0.38},{"p":"Geminga","b":"Soft X-Ray","x":0.193,"y":0.31},{"p":"Geminga","b":"Soft X-Ray","x":0.215,"y":0.4},{"p":"Geminga","b":"Soft X-Ray","x":0.225,"y":0.33},{"p":"Geminga","b":"Soft X-Ray","x":0.248,"y":0.42},{"p":"Geminga","b":"Soft X-Ray","x":0.258,"y":0.34},{"p":"Geminga","b":"Soft X-Ray","x":0.28,"y":0.43},{"p":"Geminga","b":"Soft X-Ray","x":0.29,"y":0.36},{"p":"Geminga","b":"Soft X-Ray","x":0.313,"y":0.44},{"p":"Geminga","b":"Soft X-Ray","x":0.323,"y":0.38},{"p":"Geminga","b":"Soft X-Ray","x":0.345,"y":0.46},{"p":"Geminga","b":"Soft X-Ray","x":0.355,"y":0.38},{"p":"Geminga","b":"Soft X-Ray","x":0.385,"y":0.21},{"p":"Geminga","b":"Soft X-Ray","x":0.4,"y":0.39},{"p":"Geminga","b":"Soft X-Ray","x":0.43,"y":0.41},{"p":"Geminga","b":"Soft X-Ray","x":0.46,"y":0.43},{"p":"Geminga","b":"Soft X-Ray","x":0.49,"y":0.42},{"p":"Geminga","b":"Soft X-Ray","x":0.515,"y":0.44},{"p":"Geminga","b":"Soft X-Ray","x":0.54,"y":0.48},{"p":"Geminga","b":"Soft X-Ray","x":0.57,"y":0.55},{"p":"Geminga","b":"Soft X-Ray","x":0.595,"y":0.6},{"p":"Geminga","b":"Soft X-Ray","x":0.61,"y":0.72},{"p":"Geminga","b":"Soft X-Ray","x":0.625,"y":0.62},{"p":"Geminga","b":"Soft X-Ray","x":0.64,"y":0.68},{"p":"Geminga","b":"Soft X-Ray","x":0.665,"y":0.7},{"p":"Geminga","b":"Soft X-Ray","x":0.69,"y":0.68},{"p":"Geminga","b":"Soft X-Ray","x":0.715,"y":0.7},{"p":"Geminga","b":"Soft X-Ray","x":0.74,"y":0.69},{"p":"Geminga","b":"Soft X-Ray","x":0.765,"y":0.67},{"p":"Geminga","b":"Soft X-Ray","x":0.79,"y":0.6},{"p":"Geminga","b":"Soft X-Ray","x":0.81,"y":0.48},{"p":"Geminga","b":"Soft X-Ray","x":0.825,"y":0.6},{"p":"Geminga","b":"Soft X-Ray","x":0.84,"y":0.36},{"p":"Geminga","b":"Soft X-Ray","x":0.855,"y":0.6},{"p":"Geminga","b":"Soft X-Ray","x":0.87,"y":0.34},{"p":"Geminga","b":"Soft X-Ray","x":0.885,"y":0.58},{"p":"Geminga","b":"Soft X-Ray","x":0.9,"y":0.3},{"p":"Geminga","b":"Soft X-Ray","x":0.925,"y":0.26},{"p":"Geminga","b":"Soft X-Ray","x":0.95,"y":0.28},{"p":"Geminga","b":"Soft X-Ray","x":0.97,"y":0.25},{"p":"Geminga","b":"Soft X-Ray","x":0.985,"y":0.5},{"p":"Geminga","b":"Soft X-Ray","x":1,"y":0.5},
{"p":"Geminga","b":"Hard Gamma Ray","x":0,"y":0.109},{"p":"Geminga","b":"Hard Gamma Ray","x":0.028,"y":0.087},{"p":"Geminga","b":"Hard Gamma Ray","x":0.048,"y":0.12},{"p":"Geminga","b":"Hard Gamma Ray","x":0.07,"y":0.093},{"p":"Geminga","b":"Hard Gamma Ray","x":0.093,"y":0.115},{"p":"Geminga","b":"Hard Gamma Ray","x":0.115,"y":0.098},{"p":"Geminga","b":"Hard Gamma Ray","x":0.141,"y":0.12},{"p":"Geminga","b":"Hard Gamma Ray","x":0.169,"y":0.109},{"p":"Geminga","b":"Hard Gamma Ray","x":0.192,"y":0.13},{"p":"Geminga","b":"Hard Gamma Ray","x":0.211,"y":0.152},{"p":"Geminga","b":"Hard Gamma Ray","x":0.234,"y":0.207},{"p":"Geminga","b":"Hard Gamma Ray","x":0.254,"y":0.293},{"p":"Geminga","b":"Hard Gamma Ray","x":0.27,"y":0.424},{"p":"Geminga","b":"Hard Gamma Ray","x":0.285,"y":0.511},{"p":"Geminga","b":"Hard Gamma Ray","x":0.296,"y":0.537},{"p":"Geminga","b":"Hard Gamma Ray","x":0.31,"y":0.489},{"p":"Geminga","b":"Hard Gamma Ray","x":0.324,"y":0.38},{"p":"Geminga","b":"Hard Gamma Ray","x":0.341,"y":0.283},{"p":"Geminga","b":"Hard Gamma Ray","x":0.358,"y":0.239},{"p":"Geminga","b":"Hard Gamma Ray","x":0.38,"y":0.217},{"p":"Geminga","b":"Hard Gamma Ray","x":0.403,"y":0.207},{"p":"Geminga","b":"Hard Gamma Ray","x":0.423,"y":0.224},{"p":"Geminga","b":"Hard Gamma Ray","x":0.442,"y":0.196},{"p":"Geminga","b":"Hard Gamma Ray","x":0.465,"y":0.228},{"p":"Geminga","b":"Hard Gamma Ray","x":0.487,"y":0.202},{"p":"Geminga","b":"Hard Gamma Ray","x":0.51,"y":0.224},{"p":"Geminga","b":"Hard Gamma Ray","x":0.532,"y":0.207},{"p":"Geminga","b":"Hard Gamma Ray","x":0.555,"y":0.233},{"p":"Geminga","b":"Hard Gamma Ray","x":0.577,"y":0.211},{"p":"Geminga","b":"Hard Gamma Ray","x":0.6,"y":0.228},{"p":"Geminga","b":"Hard Gamma Ray","x":0.623,"y":0.217},{"p":"Geminga","b":"Hard Gamma Ray","x":0.645,"y":0.233},{"p":"Geminga","b":"Hard Gamma Ray","x":0.668,"y":0.224},{"p":"Geminga","b":"Hard Gamma Ray","x":0.69,"y":0.254},{"p":"Geminga","b":"Hard Gamma Ray","x":0.713,"y":0.261},{"p":"Geminga","b":"Hard Gamma Ray","x":0.732,"y":0.283},{"p":"Geminga","b":"Hard Gamma Ray","x":0.752,"y":0.337},{"p":"Geminga","b":"Hard Gamma Ray","x":0.769,"y":0.511},{"p":"Geminga","b":"Hard Gamma Ray","x":0.783,"y":0.685},{"p":"Geminga","b":"Hard Gamma Ray","x":0.797,"y":0.772},{"p":"Geminga","b":"Hard Gamma Ray","x":0.808,"y":0.707},{"p":"Geminga","b":"Hard Gamma Ray","x":0.82,"y":0.554},{"p":"Geminga","b":"Hard Gamma Ray","x":0.831,"y":0.38},{"p":"Geminga","b":"Hard Gamma Ray","x":0.848,"y":0.228},{"p":"Geminga","b":"Hard Gamma Ray","x":0.868,"y":0.152},{"p":"Geminga","b":"Hard Gamma Ray","x":0.893,"y":0.13},{"p":"Geminga","b":"Hard Gamma Ray","x":0.921,"y":0.109},{"p":"Geminga","b":"Hard Gamma Ray","x":0.949,"y":0.098},{"p":"Geminga","b":"Hard Gamma Ray","x":0.977,"y":0.109},{"p":"Geminga","b":"Hard Gamma Ray","x":1,"y":0.109},
{"p":"B1055-52","b":"Radio","x":0,"y":0.118},{"p":"B1055-52","b":"Radio","x":0.05,"y":0.112},{"p":"B1055-52","b":"Radio","x":0.1,"y":0.12},{"p":"B1055-52","b":"Radio","x":0.115,"y":0.125},{"p":"B1055-52","b":"Radio","x":0.13,"y":0.3},{"p":"B1055-52","b":"Radio","x":0.146,"y":0.45},{"p":"B1055-52","b":"Radio","x":0.16,"y":0.44},{"p":"B1055-52","b":"Radio","x":0.175,"y":0.3},{"p":"B1055-52","b":"Radio","x":0.19,"y":0.29},{"p":"B1055-52","b":"Radio","x":0.207,"y":0.28},{"p":"B1055-52","b":"Radio","x":0.225,"y":0.17},{"p":"B1055-52","b":"Radio","x":0.24,"y":0.115},{"p":"B1055-52","b":"Radio","x":0.28,"y":0.11},{"p":"B1055-52","b":"Radio","x":0.32,"y":0.12},{"p":"B1055-52","b":"Radio","x":0.36,"y":0.108},{"p":"B1055-52","b":"Radio","x":0.4,"y":0.12},{"p":"B1055-52","b":"Radio","x":0.44,"y":0.112},{"p":"B1055-52","b":"Radio","x":0.48,"y":0.12},{"p":"B1055-52","b":"Radio","x":0.52,"y":0.11},{"p":"B1055-52","b":"Radio","x":0.56,"y":0.118},{"p":"B1055-52","b":"Radio","x":0.6,"y":0.112},{"p":"B1055-52","b":"Radio","x":0.64,"y":0.12},{"p":"B1055-52","b":"Radio","x":0.68,"y":0.12},{"p":"B1055-52","b":"Radio","x":0.695,"y":0.2},{"p":"B1055-52","b":"Radio","x":0.715,"y":0.22},{"p":"B1055-52","b":"Radio","x":0.732,"y":0.567},{"p":"B1055-52","b":"Radio","x":0.742,"y":0.21},{"p":"B1055-52","b":"Radio","x":0.755,"y":0.22},{"p":"B1055-52","b":"Radio","x":0.772,"y":0.41},{"p":"B1055-52","b":"Radio","x":0.79,"y":0.4},{"p":"B1055-52","b":"Radio","x":0.81,"y":0.12},{"p":"B1055-52","b":"Radio","x":0.86,"y":0.115},{"p":"B1055-52","b":"Radio","x":0.9,"y":0.12},{"p":"B1055-52","b":"Radio","x":0.95,"y":0.118},{"p":"B1055-52","b":"Radio","x":1,"y":0.12},
{"p":"B1055-52","b":"Soft X-Ray","x":0,"y":0.371},{"p":"B1055-52","b":"Soft X-Ray","x":0.06,"y":0.338},{"p":"B1055-52","b":"Soft X-Ray","x":0.148,"y":0.259},{"p":"B1055-52","b":"Soft X-Ray","x":0.196,"y":0.252},{"p":"B1055-52","b":"Soft X-Ray","x":0.25,"y":0.065},{"p":"B1055-52","b":"Soft X-Ray","x":0.3,"y":0.155},{"p":"B1055-52","b":"Soft X-Ray","x":0.345,"y":0.328},{"p":"B1055-52","b":"Soft X-Ray","x":0.388,"y":0.129},{"p":"B1055-52","b":"Soft X-Ray","x":0.442,"y":0.274},{"p":"B1055-52","b":"Soft X-Ray","x":0.495,"y":0.198},{"p":"B1055-52","b":"Soft X-Ray","x":0.59,"y":0.306},{"p":"B1055-52","b":"Soft X-Ray","x":0.637,"y":0.375},{"p":"B1055-52","b":"Soft X-Ray","x":0.691,"y":0.72},{"p":"B1055-52","b":"Soft X-Ray","x":0.735,"y":0.313},{"p":"B1055-52","b":"Soft X-Ray","x":0.785,"y":0.425},{"p":"B1055-52","b":"Soft X-Ray","x":0.83,"y":0.554},{"p":"B1055-52","b":"Soft X-Ray","x":0.874,"y":0.619},{"p":"B1055-52","b":"Soft X-Ray","x":0.93,"y":0.435},{"p":"B1055-52","b":"Soft X-Ray","x":1,"y":0.435},
{"p":"B1055-52","b":"Hard Gamma Ray","x":0,"y":0.076},{"p":"B1055-52","b":"Hard Gamma Ray","x":0.028,"y":0.022},{"p":"B1055-52","b":"Hard Gamma Ray","x":0.056,"y":0.076},{"p":"B1055-52","b":"Hard Gamma Ray","x":0.09,"y":0.13},{"p":"B1055-52","b":"Hard Gamma Ray","x":0.14,"y":0.054},{"p":"B1055-52","b":"Hard Gamma Ray","x":0.174,"y":0.076},{"p":"B1055-52","b":"Hard Gamma Ray","x":0.21,"y":0.054},{"p":"B1055-52","b":"Hard Gamma Ray","x":0.238,"y":0.233},{"p":"B1055-52","b":"Hard Gamma Ray","x":0.275,"y":0.076},{"p":"B1055-52","b":"Hard Gamma Ray","x":0.303,"y":0.098},{"p":"B1055-52","b":"Hard Gamma Ray","x":0.336,"y":0.233},{"p":"B1055-52","b":"Hard Gamma Ray","x":0.37,"y":0.098},{"p":"B1055-52","b":"Hard Gamma Ray","x":0.406,"y":0.054},{"p":"B1055-52","b":"Hard Gamma Ray","x":0.434,"y":0.37},{"p":"B1055-52","b":"Hard Gamma Ray","x":0.471,"y":0.576},{"p":"B1055-52","b":"Hard Gamma Ray","x":0.504,"y":0.435},{"p":"B1055-52","b":"Hard Gamma Ray","x":0.538,"y":0.267},{"p":"B1055-52","b":"Hard Gamma Ray","x":0.566,"y":0.435},{"p":"B1055-52","b":"Hard Gamma Ray","x":0.594,"y":0.467},{"p":"B1055-52","b":"Hard Gamma Ray","x":0.667,"y":0.602},{"p":"B1055-52","b":"Hard Gamma Ray","x":0.706,"y":0.533},{"p":"B1055-52","b":"Hard Gamma Ray","x":0.751,"y":0.4},{"p":"B1055-52","b":"Hard Gamma Ray","x":0.784,"y":0.337},{"p":"B1055-52","b":"Hard Gamma Ray","x":0.812,"y":0.163},{"p":"B1055-52","b":"Hard Gamma Ray","x":0.846,"y":0.12},{"p":"B1055-52","b":"Hard Gamma Ray","x":0.874,"y":0.033},{"p":"B1055-52","b":"Hard Gamma Ray","x":0.902,"y":0.163},{"p":"B1055-52","b":"Hard Gamma Ray","x":0.947,"y":0.076},{"p":"B1055-52","b":"Hard Gamma Ray","x":0.966,"y":0.228},{"p":"B1055-52","b":"Hard Gamma Ray","x":1,"y":0.228}
]},
"spacing": -10.4,
"resolve": {"scale": {"x": "independent", "y": "independent"}, "axis": {"x": "independent", "y": "independent"}},
"hconcat": [
{"spacing": 0, "bounds": "flush", "resolve": {"scale": {"x": "independent", "y": "independent"}, "axis": {"x": "independent", "y": "independent"}}, "vconcat": [
 {"title": {"text": "Crab", "anchor": "middle", "dx": 8}, "width": 114, "height": 155, "data": {"name": "profiles"}, "transform": [{"filter": "datum.p == 'Crab' && datum.b == 'Radio'"}], "encoding": {"x": {"field": "x", "type": "quantitative", "scale": {"domain": [0, 1], "nice": false, "zero": false}, "axis": null}, "y": {"field": "y", "type": "quantitative", "scale": {"domain": [0, 1], "nice": false}, "axis": null}}, "layer": [{"mark": {"type": "area", "color": "#c0c0c0"}, "encoding": {}}, {"mark": {"type": "line", "color": "black", "strokeWidth": 2}, "encoding": {}}]},
 {"width": 114, "height": 155, "data": {"name": "profiles"}, "transform": [{"filter": "datum.p == 'Crab' && datum.b == 'Optical'"}], "encoding": {"x": {"field": "x", "type": "quantitative", "scale": {"domain": [0, 1], "nice": false, "zero": false}, "axis": null}, "y": {"field": "y", "type": "quantitative", "scale": {"domain": [0, 1], "nice": false}, "axis": null}}, "layer": [{"mark": {"type": "area", "color": "#c0c0c0"}, "encoding": {}}, {"mark": {"type": "line", "color": "black", "strokeWidth": 2}, "encoding": {}}]},
 {"width": 114, "height": 155, "data": {"name": "profiles"}, "transform": [{"filter": "datum.p == 'Crab' && datum.b == 'Soft X-Ray'"}], "encoding": {"x": {"field": "x", "type": "quantitative", "scale": {"domain": [0, 1], "nice": false, "zero": false}, "axis": null}, "y": {"field": "y", "type": "quantitative", "scale": {"domain": [0, 1], "nice": false}, "axis": null}}, "layer": [{"mark": {"type": "area", "color": "#c0c0c0"}, "encoding": {}}, {"mark": {"type": "line", "color": "black", "strokeWidth": 2}, "encoding": {}}]},
 {"width": 114, "height": 155, "data": {"name": "profiles"}, "transform": [{"filter": "datum.p == 'Crab' && datum.b == 'X-ray/Gamma Ray'"}], "encoding": {"x": {"field": "x", "type": "quantitative", "scale": {"domain": [0, 1], "nice": false, "zero": false}, "axis": null}, "y": {"field": "y", "type": "quantitative", "scale": {"domain": [0, 1], "nice": false}, "axis": null}}, "layer": [{"mark": {"type": "area", "interpolate": "step-after", "color": "black"}, "encoding": {}}]},
 {"width": 114, "height": 155, "data": {"name": "profiles"}, "transform": [{"filter": "datum.p == 'Crab' && datum.b == 'Hard Gamma Ray'"}], "encoding": {"x": {"field": "x", "type": "quantitative", "scale": {"domain": [0, 1], "nice": false, "zero": false}, "axis": {"title": "P ~ 33 ms"}}, "y": {"field": "y", "type": "quantitative", "scale": {"domain": [0, 1], "nice": false}, "axis": null}}, "layer": [{"mark": {"type": "area", "interpolate": "step-after", "color": "black"}, "encoding": {}}]}
]},
{"spacing": 0, "bounds": "flush", "resolve": {"scale": {"x": "independent", "y": "independent"}, "axis": {"x": "independent", "y": "independent"}}, "vconcat": [
 {"title": {"text": "B1509-58", "anchor": "middle", "dx": 3}, "width": 114, "height": 155, "data": {"name": "profiles"}, "transform": [{"filter": "datum.p == 'B1509-58' && datum.b == 'Radio'"}], "encoding": {"x": {"field": "x", "type": "quantitative", "scale": {"domain": [0, 1], "nice": false, "zero": false}, "axis": null}, "y": {"field": "y", "type": "quantitative", "scale": {"domain": [0, 1], "nice": false}, "axis": null}}, "layer": [{"mark": {"type": "area", "color": "#c0c0c0"}, "encoding": {}}, {"mark": {"type": "line", "color": "black", "strokeWidth": 2}, "encoding": {}}]},
 {"width": 114, "height": 155, "data": {"name": "profiles"}, "transform": [{"filter": "datum.p == 'B1509-58' && datum.b == 'Optical'"}], "encoding": {"x": {"field": "x", "type": "quantitative", "scale": {"domain": [0, 1], "nice": false, "zero": false}, "axis": null}, "y": {"field": "y", "type": "quantitative", "scale": {"domain": [0, 1], "nice": false}, "axis": null}}, "layer": [{"mark": {"type": "area", "color": "#c0c0c0"}, "encoding": {}}]},
 {"width": 114, "height": 155, "data": {"name": "profiles"}, "transform": [{"filter": "datum.p == 'B1509-58' && datum.b == 'Soft X-Ray'"}], "encoding": {"x": {"field": "x", "type": "quantitative", "scale": {"domain": [0, 1], "nice": false, "zero": false}, "axis": null}, "y": {"field": "y", "type": "quantitative", "scale": {"domain": [0, 1], "nice": false}, "axis": null}}, "layer": [{"mark": {"type": "area", "interpolate": "step-after", "color": "#c0c0c0"}, "encoding": {}}, {"mark": {"type": "line", "interpolate": "step-after", "color": "black", "strokeWidth": 2}, "encoding": {}}]},
 {"width": 114, "height": 155, "data": {"name": "profiles"}, "transform": [{"filter": "datum.p == 'B1509-58' && datum.b == 'X-ray/Gamma Ray'"}], "encoding": {"x": {"field": "x", "type": "quantitative", "scale": {"domain": [0, 1], "nice": false, "zero": false}, "axis": null}, "y": {"field": "y", "type": "quantitative", "scale": {"domain": [0, 1], "nice": false}, "axis": null}}, "layer": [{"mark": {"type": "area", "interpolate": "step-after", "color": "black"}, "encoding": {}}]},
 {"width": 114, "height": 155, "data": {"name": "profiles"}, "transform": [{"filter": "datum.p == 'B1509-58' && datum.b == 'Hard Gamma Ray'"}], "encoding": {"x": {"field": "x", "type": "quantitative", "scale": {"domain": [0, 1], "nice": false, "zero": false}, "axis": {"title": "P ~ 150 ms"}}, "y": {"field": "y", "type": "quantitative", "scale": {"domain": [0, 1], "nice": false}, "axis": null}}, "layer": [{"mark": {"type": "area", "interpolate": "step-after", "color": "black"}, "encoding": {}}]}
]},
{"spacing": 0, "bounds": "flush", "resolve": {"scale": {"x": "independent", "y": "independent"}, "axis": {"x": "independent", "y": "independent"}}, "vconcat": [
 {"title": {"text": "Vela", "anchor": "middle", "dx": -2}, "width": 114, "height": 155, "data": {"name": "profiles"}, "transform": [{"filter": "datum.p == 'Vela' && datum.b == 'Radio'"}], "encoding": {"x": {"field": "x", "type": "quantitative", "scale": {"domain": [0, 1], "nice": false, "zero": false}, "axis": null}, "y": {"field": "y", "type": "quantitative", "scale": {"domain": [0, 1], "nice": false}, "axis": null}}, "layer": [{"mark": {"type": "area", "color": "#c0c0c0"}, "encoding": {}}, {"mark": {"type": "line", "color": "black", "strokeWidth": 2}, "encoding": {}}]},
 {"width": 114, "height": 155, "data": {"name": "profiles"}, "transform": [{"filter": "datum.p == 'Vela' && datum.b == 'Optical'"}], "encoding": {"x": {"field": "x", "type": "quantitative", "scale": {"domain": [0, 1], "nice": false, "zero": false}, "axis": null}, "y": {"field": "y", "type": "quantitative", "scale": {"domain": [0, 1], "nice": false}, "axis": null}}, "layer": [{"mark": {"type": "area", "interpolate": "step-after", "color": "#c0c0c0"}, "encoding": {}}, {"mark": {"type": "line", "interpolate": "step-after", "color": "black", "strokeWidth": 2}, "encoding": {}}]},
 {"width": 114, "height": 155, "data": {"name": "profiles"}, "transform": [{"filter": "datum.p == 'Vela' && datum.b == 'Soft X-Ray'"}], "encoding": {"x": {"field": "x", "type": "quantitative", "scale": {"domain": [0, 1], "nice": false, "zero": false}, "axis": null}, "y": {"field": "y", "type": "quantitative", "scale": {"domain": [0, 1], "nice": false}, "axis": null}}, "layer": [{"mark": {"type": "area", "interpolate": "step-after", "color": "#c0c0c0"}, "encoding": {}}, {"mark": {"type": "line", "interpolate": "step-after", "color": "black", "strokeWidth": 2}, "encoding": {}}]},
 {"width": 114, "height": 155, "data": {"name": "profiles"}, "transform": [{"filter": "datum.p == 'Vela' && datum.b == 'X-ray/Gamma Ray'"}], "encoding": {"x": {"field": "x", "type": "quantitative", "scale": {"domain": [0, 1], "nice": false, "zero": false}, "axis": null}, "y": {"field": "y", "type": "quantitative", "scale": {"domain": [0, 1], "nice": false}, "axis": null}}, "layer": [{"mark": {"type": "area", "interpolate": "step-after", "color": "black"}, "encoding": {}}]},
 {"width": 114, "height": 155, "data": {"name": "profiles"}, "transform": [{"filter": "datum.p == 'Vela' && datum.b == 'Hard Gamma Ray'"}], "encoding": {"x": {"field": "x", "type": "quantitative", "scale": {"domain": [0, 1], "nice": false, "zero": false}, "axis": {"title": "P ~ 89 ms"}}, "y": {"field": "y", "type": "quantitative", "scale": {"domain": [0, 1], "nice": false}, "axis": null}}, "layer": [{"mark": {"type": "area", "interpolate": "step-after", "color": "black"}, "encoding": {}}]}
]},
{"spacing": 0, "bounds": "flush", "resolve": {"scale": {"x": "independent", "y": "independent"}, "axis": {"x": "independent", "y": "independent"}}, "vconcat": [
 {"title": {"text": "B1706-44", "anchor": "middle", "dx": 2}, "width": 114, "height": 155, "data": {"name": "profiles"}, "transform": [{"filter": "datum.p == 'B1706-44' && datum.b == 'Radio'"}], "encoding": {"x": {"field": "x", "type": "quantitative", "scale": {"domain": [0, 1], "nice": false, "zero": false}, "axis": null}, "y": {"field": "y", "type": "quantitative", "scale": {"domain": [0, 1], "nice": false}, "axis": null}}, "layer": [{"mark": {"type": "area", "color": "#c0c0c0"}, "encoding": {}}, {"mark": {"type": "line", "color": "black", "strokeWidth": 2}, "encoding": {}}]},
 {"width": 114, "height": 155, "data": {"name": "profiles"}, "transform": [{"filter": "datum.p == 'B1706-44' && datum.b == 'Optical'"}], "encoding": {"x": {"field": "x", "type": "quantitative", "scale": {"domain": [0, 1], "nice": false, "zero": false}, "axis": null}, "y": {"field": "y", "type": "quantitative", "scale": {"domain": [0, 1], "nice": false}, "axis": null}}, "layer": [{"mark": {"type": "area", "color": "#c0c0c0"}, "encoding": {}}]},
 {"width": 114, "height": 155, "data": {"name": "profiles"}, "transform": [{"filter": "datum.p == 'B1706-44' && datum.b == 'Soft X-Ray'"}], "encoding": {"x": {"field": "x", "type": "quantitative", "scale": {"domain": [0, 1], "nice": false, "zero": false}, "axis": null}, "y": {"field": "y", "type": "quantitative", "scale": {"domain": [0, 1], "nice": false}, "axis": null}}, "layer": [{"mark": {"type": "area", "interpolate": "step-after", "color": "#c0c0c0"}, "encoding": {}}, {"mark": {"type": "line", "interpolate": "step-after", "color": "black", "strokeWidth": 2}, "encoding": {}}]},
 {"width": 114, "height": 155, "data": {"name": "profiles"}, "transform": [{"filter": "datum.p == 'B1706-44' && datum.b == 'X-ray/Gamma Ray'"}], "encoding": {"x": {"field": "x", "type": "quantitative", "scale": {"domain": [0, 1], "nice": false, "zero": false}, "axis": null}, "y": {"field": "y", "type": "quantitative", "scale": {"domain": [0, 1], "nice": false}, "axis": null}}, "layer": [{"mark": {"type": "area", "interpolate": "step-after", "color": "black"}, "encoding": {}}]},
 {"width": 114, "height": 155, "data": {"name": "profiles"}, "transform": [{"filter": "datum.p == 'B1706-44' && datum.b == 'Hard Gamma Ray'"}], "encoding": {"x": {"field": "x", "type": "quantitative", "scale": {"domain": [0, 1], "nice": false, "zero": false}, "axis": {"title": "P ~ 102 ms"}}, "y": {"field": "y", "type": "quantitative", "scale": {"domain": [0, 1], "nice": false}, "axis": null}}, "layer": [{"mark": {"type": "area", "interpolate": "step-after", "color": "black"}, "encoding": {}}]}
]},
{"spacing": 0, "bounds": "flush", "resolve": {"scale": {"x": "independent", "y": "independent"}, "axis": {"x": "independent", "y": "independent"}}, "vconcat": [
 {"title": {"text": "B1951+32", "anchor": "middle", "dx": -1}, "width": 114, "height": 155, "data": {"name": "profiles"}, "transform": [{"filter": "datum.p == 'B1951+32' && datum.b == 'Radio'"}], "encoding": {"x": {"field": "x", "type": "quantitative", "scale": {"domain": [0, 1], "nice": false, "zero": false}, "axis": null}, "y": {"field": "y", "type": "quantitative", "scale": {"domain": [0, 1], "nice": false}, "axis": null}}, "layer": [{"mark": {"type": "area", "color": "#c0c0c0"}, "encoding": {}}, {"mark": {"type": "line", "color": "black", "strokeWidth": 2}, "encoding": {}}]},
 {"width": 114, "height": 155, "data": {"name": "profiles"}, "transform": [{"filter": "datum.p == 'B1951+32' && datum.b == 'Optical'"}], "encoding": {"x": {"field": "x", "type": "quantitative", "scale": {"domain": [0, 1], "nice": false, "zero": false}, "axis": null}, "y": {"field": "y", "type": "quantitative", "scale": {"domain": [0, 1], "nice": false}, "axis": null}}, "layer": [{"mark": {"type": "area", "color": "#c0c0c0"}, "encoding": {}}]},
 {"width": 114, "height": 155, "data": {"name": "profiles"}, "transform": [{"filter": "datum.p == 'B1951+32' && datum.b == 'Soft X-Ray'"}], "encoding": {"x": {"field": "x", "type": "quantitative", "scale": {"domain": [0, 1], "nice": false, "zero": false}, "axis": null}, "y": {"field": "y", "type": "quantitative", "scale": {"domain": [0, 1], "nice": false}, "axis": null}}, "layer": [{"mark": {"type": "area", "interpolate": "step-after", "color": "#c0c0c0"}, "encoding": {}}, {"mark": {"type": "line", "interpolate": "step-after", "color": "black", "strokeWidth": 2}, "encoding": {}}]},
 {"width": 114, "height": 155, "data": {"name": "profiles"}, "transform": [{"filter": "datum.p == 'B1951+32' && datum.b == 'X-ray/Gamma Ray'"}], "encoding": {"x": {"field": "x", "type": "quantitative", "scale": {"domain": [0, 1], "nice": false, "zero": false}, "axis": null}, "y": {"field": "y", "type": "quantitative", "scale": {"domain": [0, 1], "nice": false}, "axis": null}}, "layer": [{"mark": {"type": "area", "interpolate": "step-after", "color": "black"}, "encoding": {}}]},
 {"width": 114, "height": 155, "data": {"name": "profiles"}, "transform": [{"filter": "datum.p == 'B1951+32' && datum.b == 'Hard Gamma Ray'"}], "encoding": {"x": {"field": "x", "type": "quantitative", "scale": {"domain": [0, 1], "nice": false, "zero": false}, "axis": {"title": "P ~ 39 ms"}}, "y": {"field": "y", "type": "quantitative", "scale": {"domain": [0, 1], "nice": false}, "axis": null}}, "layer": [{"mark": {"type": "area", "interpolate": "step-after", "color": "black"}, "encoding": {}}]}
]},
{"spacing": 0, "bounds": "flush", "resolve": {"scale": {"x": "independent", "y": "independent"}, "axis": {"x": "independent", "y": "independent"}}, "vconcat": [
 {"title": {"text": "Geminga", "anchor": "middle", "dx": -6}, "width": 114, "height": 155, "data": {"name": "profiles"}, "transform": [{"filter": "datum.p == 'Geminga' && datum.b == 'Radio'"}], "encoding": {"x": {"field": "x", "type": "quantitative", "scale": {"domain": [0, 1], "nice": false, "zero": false}, "axis": null}, "y": {"field": "y", "type": "quantitative", "scale": {"domain": [0, 1], "nice": false}, "axis": null}}, "layer": [{"transform": [{"filter": "!datum.t"}], "mark": {"type": "area", "color": "#7f7f7f"}, "encoding": {}}, {"transform": [{"filter": "!datum.t"}], "mark": {"type": "line", "color": "black", "strokeWidth": 2}, "encoding": {}}, {"transform": [{"filter": "isValid(datum.t)"}], "mark": {"type": "text", "font": "Liberation Serif", "fontSize": 24, "baseline": "middle", "color": "#222222"}, "encoding": {"text": {"field": "t"}}}]},
 {"width": 114, "height": 155, "data": {"name": "profiles"}, "transform": [{"filter": "datum.p == 'Geminga' && datum.b == 'Optical'"}], "encoding": {"x": {"field": "x", "type": "quantitative", "scale": {"domain": [0, 1], "nice": false, "zero": false}, "axis": null}, "y": {"field": "y", "type": "quantitative", "scale": {"domain": [0, 1], "nice": false}, "axis": null}}, "layer": [{"mark": {"type": "area", "interpolate": "step-after", "color": "#c0c0c0"}, "encoding": {}}, {"mark": {"type": "line", "interpolate": "step-after", "color": "black", "strokeWidth": 2}, "encoding": {}}]},
 {"width": 114, "height": 155, "data": {"name": "profiles"}, "transform": [{"filter": "datum.p == 'Geminga' && datum.b == 'Soft X-Ray'"}], "encoding": {"x": {"field": "x", "type": "quantitative", "scale": {"domain": [0, 1], "nice": false, "zero": false}, "axis": null}, "y": {"field": "y", "type": "quantitative", "scale": {"domain": [0, 1], "nice": false}, "axis": null}}, "layer": [{"mark": {"type": "area", "interpolate": "step-after", "color": "#c0c0c0"}, "encoding": {}}, {"mark": {"type": "line", "interpolate": "step-after", "color": "black", "strokeWidth": 2}, "encoding": {}}]},
 {"width": 114, "height": 155, "data": {"name": "profiles"}, "transform": [{"filter": "datum.p == 'Geminga' && datum.b == 'X-ray/Gamma Ray'"}], "encoding": {"x": {"field": "x", "type": "quantitative", "scale": {"domain": [0, 1], "nice": false, "zero": false}, "axis": null}, "y": {"field": "y", "type": "quantitative", "scale": {"domain": [0, 1], "nice": false}, "axis": null}}, "layer": [{"mark": {"type": "area", "interpolate": "step-after", "color": "black"}, "encoding": {}}]},
 {"width": 114, "height": 155, "data": {"name": "profiles"}, "transform": [{"filter": "datum.p == 'Geminga' && datum.b == 'Hard Gamma Ray'"}], "encoding": {"x": {"field": "x", "type": "quantitative", "scale": {"domain": [0, 1], "nice": false, "zero": false}, "axis": {"title": "P ~ 237 ms"}}, "y": {"field": "y", "type": "quantitative", "scale": {"domain": [0, 1], "nice": false}, "axis": null}}, "layer": [{"mark": {"type": "area", "interpolate": "step-after", "color": "black"}, "encoding": {}}]}
]},
{"spacing": 0, "bounds": "flush", "resolve": {"scale": {"x": "independent", "y": "independent"}, "axis": {"x": "independent", "y": "independent"}}, "vconcat": [
 {"title": {"text": "B1055-52", "anchor": "middle", "dx": -6}, "width": 114, "height": 155, "data": {"name": "profiles"}, "transform": [{"filter": "datum.p == 'B1055-52' && datum.b == 'Radio'"}], "encoding": {"x": {"field": "x", "type": "quantitative", "scale": {"domain": [0, 1], "nice": false, "zero": false}, "axis": null}, "y": {"field": "y", "type": "quantitative", "scale": {"domain": [0, 1], "nice": false}, "axis": {"orient": "right", "title": "Radio"}}}, "layer": [{"mark": {"type": "area", "color": "#c0c0c0"}, "encoding": {}}, {"mark": {"type": "line", "color": "black", "strokeWidth": 2}, "encoding": {}}]},
 {"width": 114, "height": 155, "data": {"name": "profiles"}, "transform": [{"filter": "datum.p == 'B1055-52' && datum.b == 'Optical'"}], "encoding": {"x": {"field": "x", "type": "quantitative", "scale": {"domain": [0, 1], "nice": false, "zero": false}, "axis": null}, "y": {"field": "y", "type": "quantitative", "scale": {"domain": [0, 1], "nice": false}, "axis": {"orient": "right", "title": "Optical"}}}, "layer": [{"mark": {"type": "area", "color": "#c0c0c0"}, "encoding": {}}]},
 {"width": 114, "height": 155, "data": {"name": "profiles"}, "transform": [{"filter": "datum.p == 'B1055-52' && datum.b == 'Soft X-Ray'"}], "encoding": {"x": {"field": "x", "type": "quantitative", "scale": {"domain": [0, 1], "nice": false, "zero": false}, "axis": null}, "y": {"field": "y", "type": "quantitative", "scale": {"domain": [0, 1], "nice": false}, "axis": {"orient": "right", "title": ["Soft", "X-Ray"], "titleY": 51}}}, "layer": [{"mark": {"type": "area", "interpolate": "step-after", "color": "#c0c0c0"}, "encoding": {}}, {"mark": {"type": "line", "interpolate": "step-after", "color": "black", "strokeWidth": 2}, "encoding": {}}]},
 {"width": 114, "height": 155, "data": {"name": "profiles"}, "transform": [{"filter": "datum.p == 'B1055-52' && datum.b == 'X-ray/Gamma Ray'"}], "encoding": {"x": {"field": "x", "type": "quantitative", "scale": {"domain": [0, 1], "nice": false, "zero": false}, "axis": null}, "y": {"field": "y", "type": "quantitative", "scale": {"domain": [0, 1], "nice": false}, "axis": {"orient": "right", "title": ["X-ray/", "Gamma", "Ray"], "titleY": 24}}}, "layer": [{"mark": {"type": "area", "interpolate": "step-after", "color": "black"}, "encoding": {}}]},
 {"width": 114, "height": 155, "data": {"name": "profiles"}, "transform": [{"filter": "datum.p == 'B1055-52' && datum.b == 'Hard Gamma Ray'"}], "encoding": {"x": {"field": "x", "type": "quantitative", "scale": {"domain": [0, 1], "nice": false, "zero": false}, "axis": {"title": "P ~ 197 ms", "labels": true, "values": [1], "labelExpr": "'djt 9/03'", "labelFont": "Liberation Serif", "labelFontSize": 13, "labelColor": "black", "labelAlign": "left", "labelDx": 23, "labelPadding": 40, "labelBaseline": "alphabetic", "labelFlush": false, "labelOverlap": false, "labelBound": false}}, "y": {"field": "y", "type": "quantitative", "scale": {"domain": [0, 1], "nice": false}, "axis": {"orient": "right", "title": ["Hard", "Gamma", "Ray"], "titleY": 26}}}, "layer": [{"mark": {"type": "area", "interpolate": "step-after", "color": "black"}, "encoding": {}}]}
]}
],
"config": {
  "view": {"stroke": "black", "strokeWidth": 2},
  "font": "Liberation Sans",
  "title": {"fontSize": 22, "fontWeight": "normal", "font": "Liberation Sans", "color": "black", "offset": 16},
  "axisX": {"grid": false, "domain": false, "ticks": false, "tickSize": 0, "labels": false, "titleFontSize": 19, "titleFontWeight": "bold", "titleFont": "Liberation Sans", "titleColor": "black", "titleY": 44, "titleBaseline": "alphabetic"},
  "axisY": {"grid": false, "domain": false, "ticks": false, "tickSize": 0, "labels": false, "titleFontSize": 22, "titleFontWeight": "normal", "titleFont": "Liberation Sans", "titleColor": "black", "titleAngle": 0, "titleAlign": "left", "titleBaseline": "middle", "titlePadding": 13, "titleX": 13, "titleLineHeight": 27}
}
}
